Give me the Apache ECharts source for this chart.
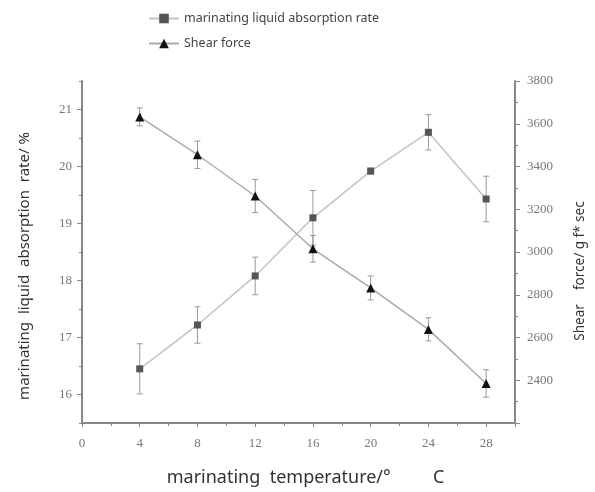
<!DOCTYPE html>
<html><head><meta charset="utf-8">
<script src="https://cdn.jsdelivr.net/npm/echarts@6/dist/echarts.min.js"></script>
<style>html,body{margin:0;padding:0;background:#fff}#c{width:595px;height:492px}</style>
</head><body><div id="c"></div>
<script>
const temps = [4, 8, 12, 16, 20, 24, 28];
const absorption = [16.45, 17.22, 18.08, 19.1, 19.92, 20.6, 19.43];
const absorptionErr = [0.44, 0.32, 0.33, 0.48, 0.05, 0.31, 0.4];
const shear = [3632, 3455, 3262, 3015, 2832, 2638, 2385];
const shearErr = [42, 64, 77, 62, 56, 54, 64];
const leftTicks = [16, 17, 18, 19, 20, 21];
const leftMinor = [15.5, 16.5, 17.5, 18.5, 19.5, 20.5, 21.5];

const chart = echarts.init(document.getElementById('c'));
const tickFont = {fontFamily: 'Liberation Serif', fontSize: 13, color: '#777'};
const axisLineStyle = {color: '#888', width: 2};

function errSeries(name, yIdx, vals, errs) {
  return {
    type: 'custom', name: name, yAxisIndex: yIdx, silent: true, z: 1,
    data: temps.map((t, i) => [t, vals[i], errs[i]]),
    renderItem: function (params, api) {
      const x = api.value(0), y = api.value(1), e = api.value(2);
      const top = api.coord([x, y + e]);
      const bot = api.coord([x, y - e]);
      const w = 3;
      const st = {stroke: '#999', lineWidth: 1};
      return {type: 'group', children: [
        {type: 'line', shape: {x1: top[0], y1: top[1], x2: bot[0], y2: bot[1]}, style: st},
        {type: 'line', shape: {x1: top[0] - w, y1: top[1], x2: top[0] + w, y2: top[1]}, style: st},
        {type: 'line', shape: {x1: bot[0] - w, y1: bot[1], x2: bot[0] + w, y2: bot[1]}, style: st}
      ]};
    }
  };
}

chart.setOption({
  animation: false,
  backgroundColor: '#fff',
  grid: {left: 82, right: 80, top: 81, bottom: 67},
  legend: {
    orient: 'vertical', left: 143, top: 7, itemWidth: 30, itemHeight: 12, itemGap: 12,
    textStyle: {fontFamily: 'Noto Sans', fontSize: 12.5, color: '#444'},
    data: ['marinating liquid absorption rate', 'Shear force']
  },
  xAxis: {
    type: 'value', min: 0, max: 30, interval: 4,
    name: 'marinating  temperature/°         C', nameLocation: 'middle', nameGap: 46,
    nameTextStyle: {fontFamily: 'Noto Sans', fontSize: 18, color: '#333', padding: [0, 0, 0, 14]},
    axisLine: {lineStyle: axisLineStyle},
    axisTick: {length: 4, lineStyle: {color: '#888'}},
    minorTick: {show: true, splitNumber: 2, length: 3, lineStyle: {color: '#888'}},
    axisLabel: Object.assign({margin: 14, showMaxLabel: false}, tickFont),
    splitLine: {show: false}
  },
  yAxis: [
    {
      type: 'value', min: 15.5, max: 21.5, position: 'left',
      name: 'marinating  liquid  absorption  rate/ %', nameLocation: 'middle', nameGap: 50,
      nameTextStyle: {fontFamily: 'Noto Sans', fontSize: 15, color: '#333', padding: [0, 28, 0, 0]},
      axisLine: {show: true, lineStyle: axisLineStyle},
      axisTick: {show: true, length: 5, customValues: leftTicks, lineStyle: {color: '#888'}},
      axisLabel: Object.assign({customValues: leftTicks, margin: 10}, tickFont),
      splitLine: {show: false}
    },
    {
      type: 'value', min: 15.5, max: 21.5, position: 'left',
      axisLine: {show: false},
      axisTick: {show: true, length: 3, customValues: leftMinor, lineStyle: {color: '#888'}},
      axisLabel: {show: false, customValues: leftMinor},
      splitLine: {show: false}
    },
    {
      type: 'value', min: 2200, max: 3800, interval: 200, position: 'right',
      name: 'Shear    force/ g f* sec', nameLocation: 'middle', nameGap: 58, nameRotate: 90,
      nameTextStyle: {fontFamily: 'Noto Sans', fontSize: 13.5, color: '#333', padding: [0, 38, 0, 0]},
      axisLine: {show: true, lineStyle: axisLineStyle},
      axisTick: {show: true, length: 5, lineStyle: {color: '#888'}},
      minorTick: {show: true, splitNumber: 2, length: 3, lineStyle: {color: '#888'}},
      axisLabel: Object.assign({margin: 12, formatter: v => v === 2200 ? '' : String(v)}, tickFont),
      splitLine: {show: false}
    }
  ],
  series: [
    errSeries('absErr', 0, absorption, absorptionErr),
    errSeries('shearErr', 2, shear, shearErr),
    {
      name: 'marinating liquid absorption rate', type: 'line', yAxisIndex: 0, z: 3,
      data: temps.map((t, i) => [t, absorption[i]]),
      symbol: 'rect', symbolSize: 7,
      lineStyle: {color: '#c4c4c4', width: 1.5},
      itemStyle: {color: '#555'}
    },
    {
      name: 'Shear force', type: 'line', yAxisIndex: 2, z: 3,
      data: temps.map((t, i) => [t, shear[i]]),
      symbol: 'triangle', symbolSize: 9,
      lineStyle: {color: '#aaa', width: 1.5},
      itemStyle: {color: '#111'}
    }
  ]
});
</script></body></html>
